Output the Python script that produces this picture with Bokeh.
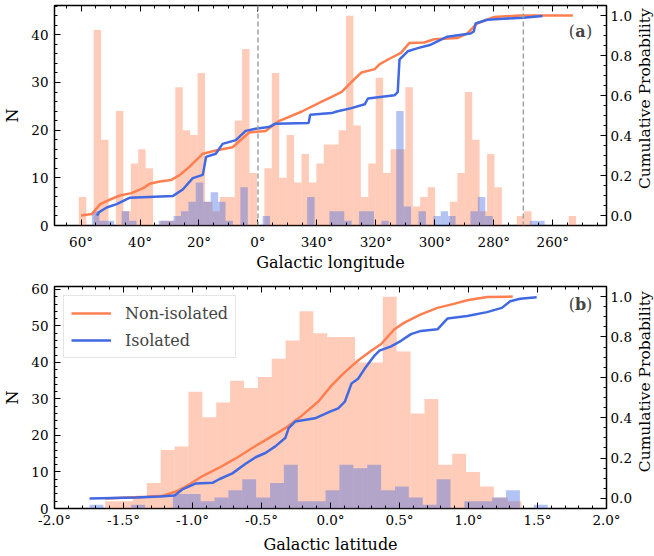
import numpy as np
from bokeh.plotting import figure
from bokeh.models import (Range1d, LinearAxis, SingleIntervalTicker, CustomJSTickFormatter,
                          Span, Label, Legend, LegendItem)
from bokeh.core.properties import value
from bokeh.layouts import column, row
from bokeh.embed import file_html
from bokeh.resources import INLINE

FONT = "DejaVu Serif"
ORANGE = "#FF7F50"
BLUE = "#4169E1"

# ---------------- data: panel (a) galactic longitude (degrees, l>180 stored as l-360) -------------
lon_bin_width = 2.517
lon_orange_start = 60.75
lon_orange_counts = [6, 0, 41, 18, 0, 24, 3, 13, 16, 12, 0, 1, 1, 29, 20, 19, 32, 5, 3, 6,
                     6, 22, 37, 11, 0, 12, 32, 10, 19, 9, 15, 9, 13, 17, 17, 20, 44, 21, 6, 13,
                     31, 11, 16, 16, 29, 4, 6, 8, 0, 0, 5, 11, 28, 18, 3, 15, 8, 0, 0, 2,
                     3, 0, 0, 0, 0, 0, 2]
lon_blue_start = 56.31
lon_blue_counts = [3, 1, 1, 0, 3, 1, 0, 0, 0, 1, 1, 2, 3, 5, 9, 5, 7, 5, 1, 0,
                   8, 0, 0, 2, 0, 0, 0, 0, 0, 6, 0, 0, 3, 3, 1, 0, 3, 3, 0, 1,
                   0, 24, 4, 0, 3, 0, 2, 3, 2, 0, 0, 3, 6, 2, 0, 0, 0, 0, 0, 1, 1]

lon_cdf_orange_x = [60.0, 56.3, 53.5, 50.1, 46.8, 42.9, 38.9, 36.7, 33.3, 29.4, 26.6, 23.2, 18.7,
                    14.3, 8.6, 3.0, -2.6, -7.1, -14.9, -21.6, -25.0, -28.4, -32.8, -35.1, -39.6,
                    -41.2, -44.1, -48.5, -51.3, -56.4, -59.7, -67.6, -71.0, -74.3, -79.9, -88.9, -106.8]
lon_cdf_orange_p = [0.0, 0.008, 0.057, 0.08, 0.1, 0.112, 0.137, 0.159, 0.17, 0.178, 0.202, 0.244,
                    0.309, 0.325, 0.341, 0.415, 0.423, 0.472, 0.52, 0.569, 0.593, 0.618, 0.683,
                    0.715, 0.732, 0.756, 0.78, 0.813, 0.862, 0.865, 0.881, 0.887, 0.911, 0.96,
                    0.992, 1.0, 1.0]
lon_cdf_blue_x = [54.6, 53.9, 51.3, 47.9, 43.4, 28.8, 25.5, 22.1, 18.7, 17.6, 14.3, 12.0, 7.5, 4.2,
                  0.8, -3.7, -5.9, -17.2, -17.7, -25.0, -26.7, -31.7, -36.2, -37.3, -46.3, -47.4,
                  -48.0, -50.8, -54.2, -58.6, -64.2, -72.1, -73.2, -73.8, -77.7, -83.3, -90.0, -96.5]
lon_cdf_blue_p = [0.0, 0.016, 0.04, 0.057, 0.089, 0.098, 0.13, 0.187, 0.203, 0.293, 0.309, 0.358,
                  0.377, 0.423, 0.434, 0.442, 0.459, 0.463, 0.504, 0.512, 0.52, 0.537, 0.556, 0.585,
                  0.601, 0.617, 0.78, 0.821, 0.837, 0.854, 0.894, 0.91, 0.92, 0.96, 0.979, 0.984,
                  0.989, 0.997]

# ---------------- data: panel (b) galactic latitude -------------
lat_bin_width = 0.1006
lat_orange_start = -1.633
lat_orange_counts = [2, 2, 3, 7, 16, 17, 32, 25, 29, 35, 33, 36, 41, 46, 54, 48, 47, 47, 40, 40,
                     58, 43, 26, 30, 12, 15, 10, 6, 3, 2]
lat_blue_start = -1.746
lat_blue_counts = [1, 0, 0, 1, 0, 0, 4, 4, 2, 3, 5, 8, 3, 7, 12, 2, 2, 5, 12, 11,
                   12, 5, 6, 3, 1, 8, 0, 2, 2, 3, 5, 0, 1]

lat_cdf_orange_x = [-1.633, -1.334, -1.214, -1.119, -1.022, -0.927, -0.807, -0.687, -0.567, -0.447,
                    -0.328, -0.208, -0.088, 0.008, 0.104, 0.2, 0.295, 0.367, 0.463, 0.535, 0.655,
                    0.775, 0.894, 0.991, 1.134, 1.321]
lat_cdf_orange_p = [0.0, 0.008, 0.013, 0.034, 0.07, 0.111, 0.152, 0.198, 0.25, 0.299, 0.348, 0.41,
                    0.48, 0.56, 0.626, 0.683, 0.732, 0.765, 0.838, 0.871, 0.912, 0.944, 0.964,
                    0.982, 0.998, 1.0]
lat_cdf_blue_x = [-1.746, -1.406, -1.238, -1.13, -1.07, -0.999, -0.975, -0.855, -0.807, -0.711,
                  -0.615, -0.543, -0.472, -0.4, -0.328, -0.303, -0.256, -0.112, -0.004, 0.056,
                  0.104, 0.152, 0.2, 0.247, 0.319, 0.355, 0.439, 0.511, 0.583, 0.655, 0.775,
                  0.847, 0.991, 1.134, 1.242, 1.302, 1.374, 1.494]
lat_cdf_blue_p = [0.0, 0.005, 0.01, 0.015, 0.046, 0.067, 0.074, 0.077, 0.095, 0.124, 0.172, 0.204,
                  0.225, 0.258, 0.299, 0.348, 0.381, 0.397, 0.43, 0.446, 0.479, 0.569, 0.593,
                  0.642, 0.708, 0.732, 0.753, 0.781, 0.814, 0.83, 0.838, 0.891, 0.904, 0.923,
                  0.944, 0.977, 0.989, 0.997]

RIGHT_TITLE = "Cumulative Probability"
PANEL_W = 634
SIDE_W = 20


def edges(start, width, n, sign):
    return start + sign * width * np.arange(n + 1)


def style_axis(ax, standoff=5, label_standoff=2, show_labels=True):
    ax.major_tick_in = 6
    ax.major_tick_out = 0
    ax.minor_tick_in = 3
    ax.minor_tick_out = 0
    ax.major_tick_line_color = "black"
    ax.minor_tick_line_color = "black"
    ax.axis_line_color = None
    ax.major_label_standoff = standoff
    ax.axis_label_standoff = label_standoff
    ax.major_label_text_font = FONT
    ax.major_label_text_font_size = "13.5px" if show_labels else "1px"
    ax.major_label_text_color = "black"
    ax.axis_label_text_font = FONT
    ax.axis_label_text_font_size = "16px"
    ax.axis_label_text_font_style = "normal"
    ax.axis_label_text_color = "black"


def base_fig(h, xr, yr, top_border, bottom_border):
    p = figure(width=PANEL_W, height=h, x_range=xr, y_range=yr, output_backend="svg",
               toolbar_location=None, min_border_left=51, min_border_right=PANEL_W - 607,
               min_border_top=top_border, min_border_bottom=bottom_border)
    p.extra_y_ranges = {"cdf": Range1d(-0.05, 1.05)}
    p.xgrid.visible = False
    p.ygrid.visible = False
    p.outline_line_color = "black"
    p.outline_line_width = 1.5
    p.background_fill_color = "white"
    p.border_fill_color = "white"
    return p


def add_right_and_top(p, xticker):
    r = LinearAxis(y_range_name="cdf",
                   ticker=SingleIntervalTicker(interval=0.2, num_minor_ticks=4),
                   formatter=CustomJSTickFormatter(code="return Math.abs(tick) < 1e-9 ? '0.0' : tick.toFixed(1);"))
    style_axis(r, standoff=4, label_standoff=1)
    p.add_layout(r, "right")
    t = LinearAxis(ticker=xticker, formatter=CustomJSTickFormatter(code="return '';"))
    style_axis(t, standoff=0, show_labels=False)
    p.add_layout(t, "above")


def side_title(h, yc):
    s = figure(width=SIDE_W, height=h, x_range=Range1d(0, 1), y_range=Range1d(0, 1),
               output_backend="svg", toolbar_location=None, x_axis_location=None,
               y_axis_location=None, min_border=0, outline_line_color=None)
    s.xgrid.visible = False
    s.ygrid.visible = False
    s.text(x=[0.5], y=[yc], text=[RIGHT_TITLE], angle=np.pi / 2, text_align="center",
           text_baseline="middle", text_font=value(FONT), text_font_size=value("15.5px"),
           text_color="black")
    return s


# ---------------- panel (a) ----------------
p1 = base_fig(274, Range1d(69.0, -118.2), Range1d(0, 46.15), 5, 44)
xt1 = SingleIntervalTicker(interval=20, num_minor_ticks=4)
p1.xaxis[0].ticker = xt1
p1.xaxis[0].formatter = CustomJSTickFormatter(
    code="let v = Math.round(tick); if (v < 0) { v += 360; } return v + '°';")
p1.xaxis[0].axis_label = "Galactic longitude"
style_axis(p1.xaxis[0], standoff=8, label_standoff=0)
p1.yaxis[0].ticker = SingleIntervalTicker(interval=10, num_minor_ticks=5)
p1.yaxis[0].axis_label = "N"
style_axis(p1.yaxis[0], standoff=6, label_standoff=6)
add_right_and_top(p1, xt1)

e_o = edges(lon_orange_start, lon_bin_width, len(lon_orange_counts), -1)
e_b = edges(lon_blue_start, lon_bin_width, len(lon_blue_counts), -1)
p1.quad(left=e_o[:-1], right=e_o[1:], bottom=0, top=lon_orange_counts,
        fill_color=ORANGE, fill_alpha=0.4, line_color=None)
p1.quad(left=e_b[:-1], right=e_b[1:], bottom=0, top=lon_blue_counts,
        fill_color=BLUE, fill_alpha=0.4, line_color=None)
for loc in (0, -90):
    p1.add_layout(Span(location=loc, dimension="height", line_color="#a0a0a0",
                       line_dash="5 3", line_width=1.5))
p1.line(lon_cdf_orange_x, lon_cdf_orange_p, y_range_name="cdf", line_color=ORANGE, line_width=2.5)
p1.line(lon_cdf_blue_x, lon_cdf_blue_p, y_range_name="cdf", line_color=BLUE, line_width=2.5)

# ---------------- panel (b) ----------------
p2 = base_fig(282, Range1d(-2.0, 2.0), Range1d(0, 60.8), 12, 45)
xt2 = SingleIntervalTicker(interval=0.5, num_minor_ticks=5)
p2.xaxis[0].ticker = xt2
p2.xaxis[0].formatter = CustomJSTickFormatter(
    code="const v = Math.abs(tick) < 1e-9 ? 0 : tick; return v.toFixed(1) + '°';")
p2.xaxis[0].axis_label = "Galactic latitude"
style_axis(p2.xaxis[0], standoff=3, label_standoff=4)
p2.yaxis[0].ticker = SingleIntervalTicker(interval=10, num_minor_ticks=5)
p2.yaxis[0].axis_label = "N"
style_axis(p2.yaxis[0], standoff=6, label_standoff=6)
add_right_and_top(p2, xt2)

f_o = edges(lat_orange_start, lat_bin_width, len(lat_orange_counts), 1)
f_b = edges(lat_blue_start, lat_bin_width, len(lat_blue_counts), 1)
p2.quad(left=f_o[:-1], right=f_o[1:], bottom=0, top=lat_orange_counts,
        fill_color=ORANGE, fill_alpha=0.4, line_color=None)
p2.quad(left=f_b[:-1], right=f_b[1:], bottom=0, top=lat_blue_counts,
        fill_color=BLUE, fill_alpha=0.4, line_color=None)
lo = p2.line(lat_cdf_orange_x, lat_cdf_orange_p, y_range_name="cdf", line_color=ORANGE, line_width=2.5)
lb = p2.line(lat_cdf_blue_x, lat_cdf_blue_p, y_range_name="cdf", line_color=BLUE, line_width=2.5)

legend = Legend(items=[LegendItem(label="Non-isolated", renderers=[lo]),
                       LegendItem(label="Isolated", renderers=[lb])],
                location="top_left", margin=9, padding=7, spacing=7,
                label_height=20, glyph_height=20, glyph_width=40, label_standoff=14,
                label_text_font=FONT, label_text_font_size="16px",
                border_line_color="#cccccc", border_line_width=1,
                background_fill_color="white", background_fill_alpha=0.8)
p2.add_layout(legend)

# panel tags
for p, x, y, tag in ((p1, -109.4, 40.7, "a"), (p2, 1.812, 55.9, "b")):
    p.add_layout(Label(x=x, y=y, text="(", text_align="right", text_baseline="middle",
                       x_offset=-5.5, text_font=FONT, text_font_size="16px"))
    p.add_layout(Label(x=x, y=y, text=tag, text_align="center", text_baseline="middle",
                       text_font=FONT, text_font_size="16px", text_font_style="bold"))
    p.add_layout(Label(x=x, y=y, text=")", text_align="left", text_baseline="middle",
                       x_offset=5.5, text_font=FONT, text_font_size="16px"))

s1 = side_title(274, 1 - 116 / 274)
s2 = side_title(282, 1 - 121 / 282)

layout = column(row(p1, s1), row(p2, s2))
open("out.html", "w").write(file_html(layout, INLINE))
